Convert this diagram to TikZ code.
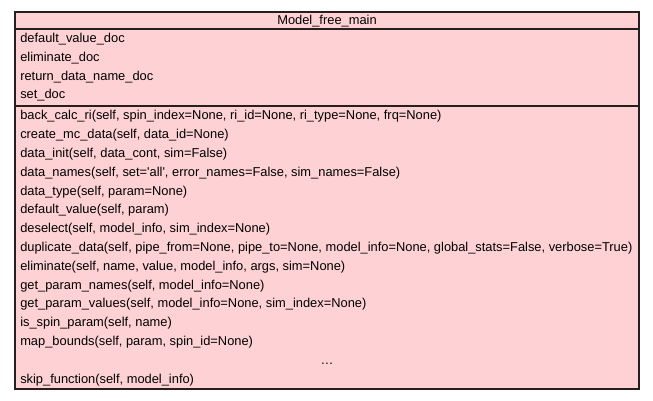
\documentclass[tikz,border=0pt]{standalone}
\usepackage{fontspec}
\setmainfont{Liberation Sans}
\definecolor{boxfill}{RGB}{254,210,213}
\definecolor{boxline}{RGB}{40,30,30}
\begin{document}
\begin{tikzpicture}[x=0.75pt,y=-0.75pt,
  member/.style={anchor=base west,inner sep=0pt,font=\fontsize{9.65pt}{11pt}\selectfont,text=black},
  ctr/.style={anchor=base,inner sep=0pt,font=\fontsize{9.65pt}{11pt}\selectfont,text=black}]
\useasboundingbox (0,0) rectangle (653,400);
\fill[white] (0,0) rectangle (653,400);
\draw[boxline,fill=boxfill,line width=1.1pt] (15,12) rectangle (639,389);
\draw[boxline,line width=1.1pt] (15,29) -- (639,29);
\draw[boxline,line width=1.1pt] (15,106) -- (639,106);
\node[ctr] (title) at (327,24.5) {Model\_free\_main};
\foreach \t [count=\i from 0] in {default\_value\_doc,eliminate\_doc,return\_data\_name\_doc,set\_doc}
  \node[member] (a\i) at (20,{42.5+18.8*\i}) {\t};
\node[member] (m0) at (20,119.8) {back\_calc\_ri(self, spin\_index=None, ri\_id=None, ri\_type=None, frq=None)};
\node[member] (m1) at (20,138.6) {create\_mc\_data(self, data\_id=None)};
\node[member] (m2) at (20,157.4) {data\_init(self, data\_cont, sim=False)};
\node[member] (m3) at (20,176.2) {data\_names(self, set=\textquotesingle all\textquotesingle, error\_names=False, sim\_names=False)};
\node[member] (m4) at (20,195.0) {data\_type(self, param=None)};
\node[member] (m5) at (20,213.8) {default\_value(self, param)};
\node[member] (m6) at (20,232.6) {deselect(self, model\_info, sim\_index=None)};
\node[member] (m7) at (20,251.4) {duplicate\_data(self, pipe\_from=None, pipe\_to=None, model\_info=None, global\_stats=False, verbose=True)};
\node[member] (m8) at (20,270.2) {eliminate(self, name, value, model\_info, args, sim=None)};
\node[member] (m9) at (20,289.0) {get\_param\_names(self, model\_info=None)};
\node[member] (m10) at (20,307.8) {get\_param\_values(self, model\_info=None, sim\_index=None)};
\node[member] (m11) at (20,326.6) {is\_spin\_param(self, name)};
\node[member] (m12) at (20,345.4) {map\_bounds(self, param, spin\_id=None)};
\node[ctr] (dots) at (327,364.2) {\ldots};
\node[member] (m13) at (20,383.0) {skip\_function(self, model\_info)};
\end{tikzpicture}
\end{document}
